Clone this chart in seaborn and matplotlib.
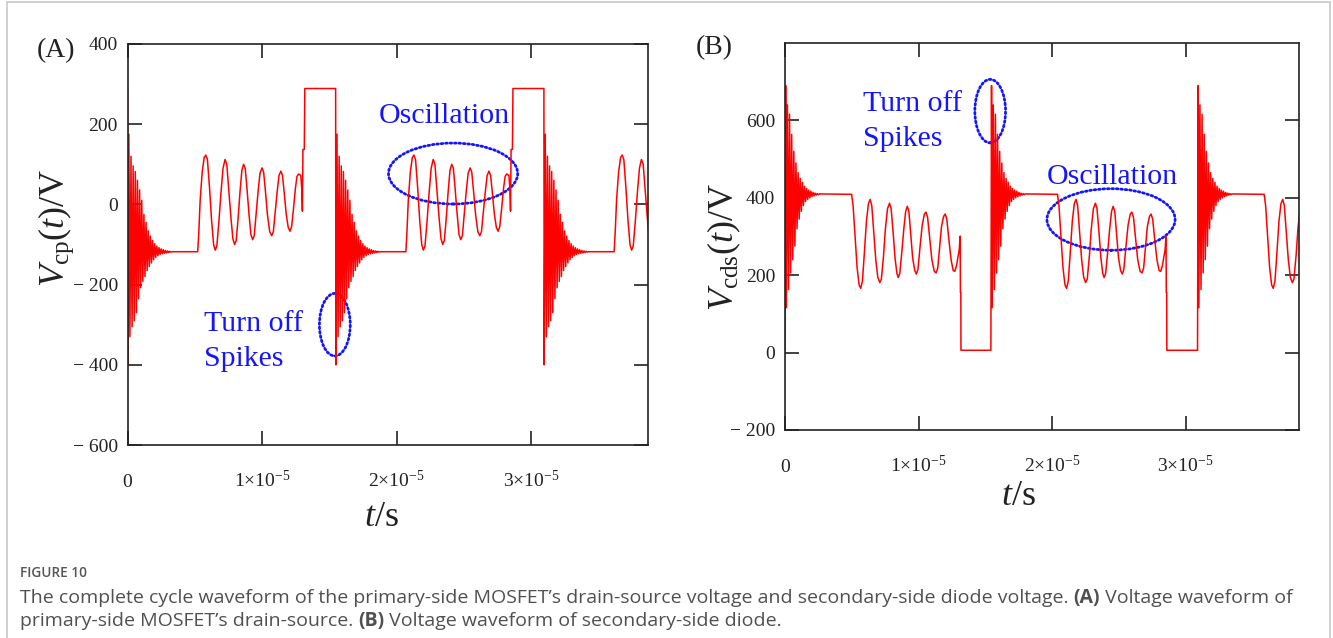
import matplotlib
matplotlib.use("Agg")
import matplotlib.pyplot as plt
from matplotlib.patches import Ellipse, Rectangle
import numpy as np
import pandas as pd
import seaborn as sns

# one switching cycle of each waveform
# time inside the cycle in microseconds, voltage in V

# (A) primary-side MOSFET drain-source voltage
ring_a_t = [0.00, 0.02, 0.10, 0.18, 0.26, 0.34, 0.42, 0.50, 0.58, 0.66, 0.74,
            0.82, 0.90, 0.98, 1.06, 1.14, 1.22, 1.30, 1.38, 1.46, 1.54, 1.62,
            1.70, 1.78, 1.86, 1.94, 2.02, 2.10, 2.18, 2.26, 2.34, 2.42, 2.50,
            2.58, 2.66, 2.74, 2.82, 2.90, 2.98, 3.06, 3.14, 3.22, 3.30]
ring_a_v = [289, -400, 175, -330, 120, -305, 96, -290, 82, -270, 60,
            -235, 36, -208, 10, -192, -25, -180, -45, -165, -66, -155,
            -79, -146, -90, -138, -98, -132, -104, -128, -108, -125, -111,
            -123, -113, -122, -115, -121, -116, -120, -117, -119, -118]
osc_a_t = [5.22, 5.30, 5.40, 5.55, 5.70, 5.82, 5.94, 6.10, 6.25, 6.40, 6.52,
           6.64, 6.80, 6.95, 7.10, 7.25, 7.38, 7.52, 7.68, 7.83, 7.96, 8.08,
           8.22, 8.36, 8.50, 8.63, 8.75, 8.88, 9.02, 9.17, 9.30, 9.42, 9.56,
           9.70, 9.85, 10.00, 10.12, 10.26, 10.40, 10.57, 10.72, 10.84, 10.98,
           11.12, 11.26, 11.40, 11.52, 11.66, 11.80, 11.95, 12.08, 12.20, 12.34,
           12.48, 12.60, 12.72, 12.88, 12.95, 13.00, 13.04, 13.14, 13.18, 15.47]
osc_a_v = [-118, -70, 10, 80, 117, 123, 112, 40, -40, -100, -114,
           -104, -40, 30, 90, 112, 100, 40, -30, -85, -100, -90,
           -35, 30, 85, 100, 90, 40, -20, -75, -88, -78, -25,
           30, 78, 91, 80, 30, -25, -68, -78, -68, -20,
           30, 72, 83, 72, 25, -25, -58, -67, -55, -10,
           40, 70, 76, 72, 40, -17, 137, 137, 289, 289]
cycle_a = [0.0, 15.47, 30.95]

# (B) secondary-side diode voltage
ring_b_t = [0.00, 0.05, 0.10, 0.18, 0.26, 0.34, 0.42, 0.50, 0.58, 0.66, 0.74,
            0.82, 0.90, 0.98, 1.06, 1.14, 1.22, 1.30, 1.38, 1.46, 1.54, 1.62,
            1.70, 1.78, 1.86, 1.94, 2.02, 2.10, 2.18, 2.26, 2.34, 2.42, 2.50, 2.58]
ring_b_v = [6, 690, 116, 640, 163, 616, 206, 564, 240, 520, 275,
            490, 320, 465, 345, 450, 365, 440, 380, 430, 390, 424,
            396, 420, 400, 417, 403, 414, 405, 412, 407, 411, 408, 410]
osc_b_t = [4.99, 5.10, 5.25, 5.40, 5.55, 5.67, 5.80, 5.95, 6.10, 6.25, 6.38,
           6.50, 6.65, 6.80, 6.95, 7.10, 7.22, 7.38, 7.52, 7.68, 7.83, 7.95,
           8.10, 8.24, 8.38, 8.48, 8.60, 8.75, 8.90, 9.04, 9.16, 9.28, 9.42,
           9.56, 9.72, 9.84, 9.96, 10.12, 10.28, 10.44, 10.56, 10.68, 10.84,
           11.00, 11.18, 11.32, 11.44, 11.58, 11.72, 11.88, 12.00, 12.12, 12.28,
           12.44, 12.60, 12.72, 12.85, 13.05, 13.12, 13.14, 13.17, 13.18, 15.42]
osc_b_v = [409, 380, 300, 220, 175, 166, 185, 260, 340, 385, 396,
           380, 310, 240, 195, 181, 190, 250, 320, 372, 386, 372,
           310, 245, 205, 194, 205, 260, 320, 365, 378, 365, 305,
           245, 212, 203, 215, 275, 330, 358, 363, 350, 295,
           240, 210, 206, 218, 270, 325, 352, 358, 345, 290,
           240, 212, 210, 225, 266, 301, 155, 155, 6, 6]
cycle_b = [0.0, 15.42, 30.90]

xticks = [0, 1e-5, 2e-5, 3e-5]
xtick_labels = ["0", r"$1{\times}10^{-5}$", r"$2{\times}10^{-5}$", r"$3{\times}10^{-5}$"]
yticks_a = [-600, -400, -200, 0, 200, 400]
yticks_b = [-200, 0, 200, 400, 600]

# annotations: text, x (s), y (V) / ellipse centre, width, height
notes_a = [("Oscillation", 18.7e-6, 204), ("Turn off", 5.68e-6, -316), ("Spikes", 5.68e-6, -403)]
rings_a = [(24.2e-6, 77, 9.6e-6, 152), (15.41e-6, -300, 2.29e-6, 156)]
notes_b = [("Turn off", 5.82e-6, 624), ("Spikes", 5.82e-6, 534), ("Oscillation", 19.57e-6, 435)]
rings_b = [(24.42e-6, 344, 9.6e-6, 159), (15.37e-6, 624, 2.3e-6, 164)]

caption_title = "FIGURE 10"
caption_1 = [("The complete cycle waveform of the primary-side MOSFET\u2019s drain-source voltage and secondary-side diode voltage. ", "normal"),
             ("(A)", "bold"), (" Voltage waveform of", "normal")]
caption_2 = [("primary-side MOSFET\u2019s drain-source. ", "normal"), ("(B)", "bold"),
             (" Voltage waveform of secondary-side diode.", "normal")]


def waveform(seg_t, seg_v, starts):
    tau = np.concatenate(seg_t)
    v = np.concatenate(seg_v)
    t = np.concatenate([s + tau for s in starts]) * 1e-6
    return pd.DataFrame({"t": t, "v": np.tile(v, len(starts))})


sns.set_style("ticks")
plt.rcParams["font.family"] = ["Liberation Serif", "DejaVu Serif"]
plt.rcParams["mathtext.fontset"] = "custom"
plt.rcParams["mathtext.rm"] = "Liberation Serif"
plt.rcParams["mathtext.it"] = "Liberation Serif:italic"
plt.rcParams["mathtext.bf"] = "Liberation Serif:bold"

W, H = 1333, 638
fig = plt.figure(figsize=(W / 100, H / 100), dpi=100)
BLUE = "#1414ff"


def panel(rect, df, xmax, ylim, yticks, notes, rings):
    ax = fig.add_axes(rect)
    sns.lineplot(data=df, x="t", y="v", ax=ax, color="#ff0000", linewidth=1.1,
                 sort=False, estimator=None)
    ax.set_xlim(0, xmax)
    ax.set_ylim(*ylim)
    ax.set_xlabel("")
    ax.set_ylabel("")
    ax.set_xticks(xticks)
    ax.set_xticklabels(xtick_labels)
    ax.set_yticks(yticks)
    ax.set_yticklabels([("\u2212 %d" % -y) if y < 0 else str(y) for y in yticks])
    ax.tick_params(direction="in", length=10, width=1.2, top=True, right=True,
                   labelsize=14, colors="#222222")
    ax.tick_params(axis="x", pad=30)
    ax.tick_params(axis="y", pad=7)
    for lab in ax.get_xticklabels():
        lab.set_verticalalignment("baseline")
    for s in ax.spines.values():
        s.set_linewidth(1.2)
        s.set_color("#222222")
    for txt, x, y in notes:
        ax.text(x, y, txt, color=BLUE, fontsize=21.5, ha="left", va="baseline")
    for xc, yc, w, h in rings:
        ax.add_patch(Ellipse((xc, yc), w, h, fill=False, edgecolor=BLUE, lw=2.0,
                             linestyle=(0, (0.6, 1.0)), capstyle="round"))
    return ax


df_a = waveform([ring_a_t, osc_a_t], [ring_a_v, osc_a_v], cycle_a)
df_b = waveform([ring_b_t, osc_b_t], [ring_b_v, osc_b_v], cycle_b)

panel([127.5 / W, 1 - 445 / H, 520 / W, 401 / H], df_a, 3.865e-5, (-600, 400), yticks_a, notes_a, rings_a)
panel([785 / W, 1 - 430 / H, 514 / W, 387 / H], df_b, 3.85e-5, (-200, 800), yticks_b, notes_b, rings_b)

# axis titles and panel letters
fig.text(56 / W, 1 - 51 / H, "(A)", fontsize=20, ha="center", va="center", color="#222222")
fig.text(714 / W, 1 - 48 / H, "(B)", fontsize=20, ha="center", va="center", color="#222222")
fig.text(56 / W, 1 - 228 / H, r"$V_{\mathrm{cp}}(t)/\mathrm{V}$", fontsize=26, rotation=90,
         ha="center", va="center", color="#222222")
fig.text(724 / W, 1 - 247 / H, r"$V_{\mathrm{cds}}(t)/\mathrm{V}$", fontsize=26, rotation=90,
         ha="center", va="center", color="#222222")
fig.text(381 / W, 1 - 526 / H, r"$t/\mathrm{s}$", fontsize=26, ha="center", va="baseline", color="#222222")
fig.text(1018 / W, 1 - 505 / H, r"$t/\mathrm{s}$", fontsize=26, ha="center", va="baseline", color="#222222")

# caption
renderer = fig.canvas.get_renderer()


def runs(x_px, y_px, parts, **kw):
    x = x_px / W
    for s, weight in parts:
        t = fig.text(x, 1 - y_px / H, s, fontweight=weight, **kw)
        x += t.get_window_extent(renderer=renderer).width / W


cap_kw = dict(fontsize=14, family=["Open Sans", "DejaVu Sans"], color="#505050", va="baseline")
fig.text(20 / W, 1 - 577 / H, caption_title, fontsize=9.8, family=["Open Sans", "DejaVu Sans"],
         fontweight="semibold", color="#555555", va="baseline")
runs(20, 603, caption_1, **cap_kw)
runs(20, 626, caption_2, **cap_kw)

fig.add_artist(Rectangle((7 / W, -0.1), (1330 - 7) / W, 1.1 - 2 / H, transform=fig.transFigure,
                         fill=False, edgecolor="#c8c8c8", lw=1.2))

fig.savefig("out.png", dpi=100)
